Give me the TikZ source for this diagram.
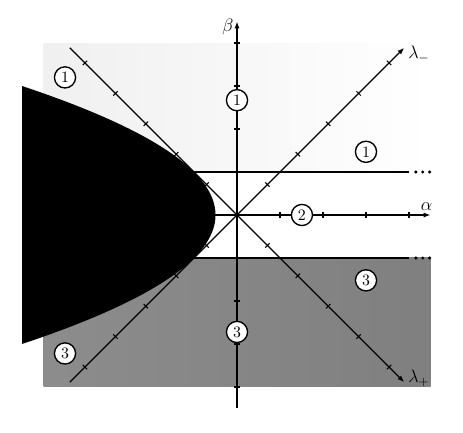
\documentclass[tikz,border=0pt]{standalone}
\usetikzlibrary{arrows.meta}
\begin{document}
\begin{tikzpicture}[
  axisline/.style={line width=0.9pt},
  lamline/.style={line width=0.9pt},
  bandline/.style={line width=1.8pt},
  tip/.style={-{Latex[length=4.5pt,width=3.4pt]}},
  region/.style={circle,draw,line width=0.9pt,fill=white,minimum size=14pt,inner sep=0pt,font=\fontsize{10.5}{12}\selectfont},
  lab/.style={font=\fontsize{11.5}{13}\selectfont},
  tickmark/.style={line width=0.7pt}
]
\useasboundingbox (-5.512,-5.047) rectangle (5.256,5.0);
% shaded regions
\shade[left color=black!6,middle color=black!27,right color=white] (-4.5,1) rectangle (4.5,4);
\shade[left color=black!45,middle color=black!26,right color=black!50] (-4.5,-4) rectangle (4.5,-1);
% coordinates
\coordinate (O) at (0,0);
\coordinate (aS) at (-5,0);
\coordinate (aE) at (4.5,0);
\coordinate (bS) at (0,-4.5);
\coordinate (bE) at (0,4.5);
\coordinate (lmS) at ({-5.5*0.70711},{-5.5*0.70711});
\coordinate (lmE) at ({5.5*0.70711},{5.5*0.70711});
\coordinate (lpS) at ({-5.5*0.70711},{5.5*0.70711});
\coordinate (lpE) at ({5.5*0.70711},{-5.5*0.70711});
\coordinate (tS) at (-4.5,1);
\coordinate (tE) at (4,1);
\coordinate (uS) at (-4.5,-1);
\coordinate (uE) at (4,-1);
% band lines
\draw[bandline] (tS) -- (tE);
\draw[bandline] (uS) -- (uE);
\foreach \x in {4.16,4.32,4.48}{
  \fill (\x,1) circle (0.04);
  \fill (\x,-1) circle (0.04);
}
% axes
\draw[axisline,tip] (aS) -- (aE);
\draw[axisline,tip] (bS) -- (bE);
\foreach \x in {1,2,3,4} \draw[tickmark] (\x,-0.07) -- (\x,0.07);
\foreach \y in {-4,-3,-2,2,3,4} \draw[tickmark] (-0.07,\y) -- (0.07,\y);
% lambda lines
\draw[lamline,tip] (lmS) -- (lmE);
\draw[lamline,tip] (lpS) -- (lpE);
\foreach \k in {-5,-4,-3,-2,-1,1,2,3,4,5}{
  \draw[tickmark] ({\k*0.70711-0.05},{\k*0.70711+0.05}) -- ({\k*0.70711+0.05},{\k*0.70711-0.05});
  \draw[tickmark] ({\k*0.70711-0.05},{-\k*0.70711-0.05}) -- ({\k*0.70711+0.05},{-\k*0.70711+0.05});
}
% black parabola region
\fill[black] plot[domain=-3:3,samples=80,smooth] ({-(1+\x*\x)/2},\x) -- cycle;
% labels
\node[lab] (blab) at (-0.21,4.38) {$\beta$};
\node[lab] (alab) at (4.41,0.2) {$\alpha$};
\node[lab] (lmlab) at (4.23,3.73) {$\lambda_-$};
\node[lab] (lplab) at (4.23,-3.8) {$\lambda_+$};
% region markers
\node[region] (r1a) at (-4,3.2) {1};
\node[region] (r1b) at (0,2.67) {1};
\node[region] (r1c) at (3,1.47) {1};
\node[region] (r2) at (1.51,0) {2};
\node[region] (r3a) at (3,-1.52) {3};
\node[region] (r3b) at (0,-2.72) {3};
\node[region] (r3c) at (-4,-3.22) {3};
\end{tikzpicture}
\end{document}
